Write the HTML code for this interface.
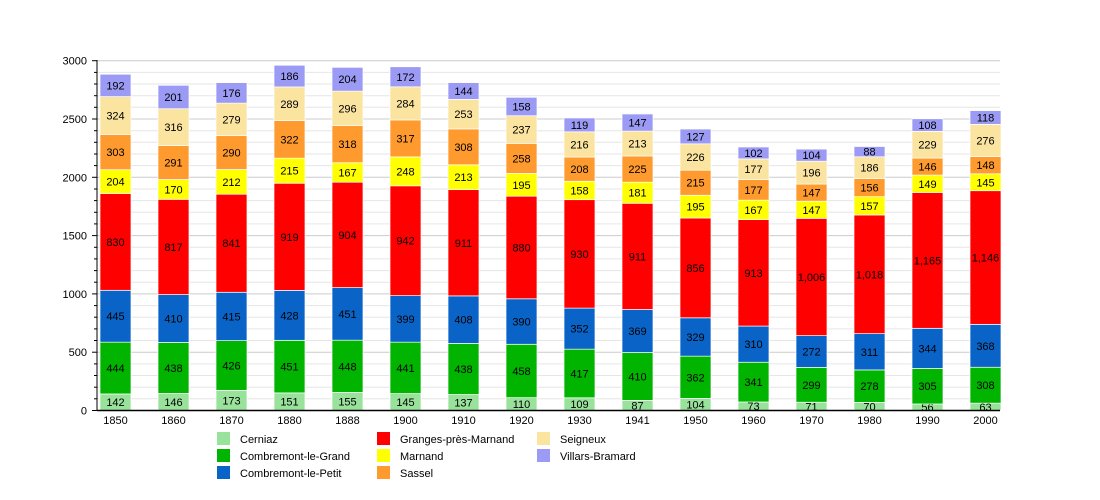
<!DOCTYPE html>
<html><head><meta charset="utf-8"><style>body{margin:0;background:#fff}svg{display:block;font-family:"Liberation Sans",sans-serif}</style></head>
<body><svg id="s" width="1100" height="500" xmlns="http://www.w3.org/2000/svg"></svg>
<script>
const yrs=[1850,1860,1870,1880,1888,1900,1910,1920,1930,1941,1950,1960,1970,1980,1990,2000];
const S=[
["Cerniaz","#99e29b",[142,146,173,151,155,145,137,110,109,87,104,73,71,70,56,63]],
["Combremont-le-Grand","#00b400",[444,438,426,451,448,441,438,458,417,410,362,341,299,278,305,308]],
["Combremont-le-Petit","#0a64c8",[445,410,415,428,451,399,408,390,352,369,329,310,272,311,344,368]],
["Granges-près-Marnand","#ff0000",[830,817,841,919,904,942,911,880,930,911,856,913,1006,1018,1165,1146]],
["Marnand","#ffff00",[204,170,212,215,167,248,213,195,158,181,195,167,147,157,149,145]],
["Sassel","#ff9a2e",[303,291,290,322,318,317,308,258,208,225,215,177,147,156,146,148]],
["Seigneux","#fbe3a0",[324,316,279,289,296,284,253,237,216,213,226,177,196,186,229,276]],
["Villars-Bramard","#9b9bf5",[192,201,176,186,204,172,144,158,119,147,127,102,104,88,108,118]]];
const y0=410.5,k=349.8/3000;let h='';
for(let v=0;v<=3000;v+=100){const y=(y0-v*k).toFixed(1);h+=`<line x1="97" x2="1000" y1="${y}" y2="${y}" stroke="${v%500==0?'#ccc':'#e6e6e6'}"/>`;h+=`<line x1="${v%500==0?92:94}" x2="97" y1="${y}" y2="${y}" stroke="#000"/>`;if(v%500==0)h+=`<text x="87" y="${+y+4}" font-size="11" text-anchor="end">${v}</text>`;}
yrs.forEach((yr,i)=>{const x=100+58*i;let c=0;S.forEach(s=>{const v=s[2][i];const a=y0-c*k,b=y0-(c+v)*k;h+=`<rect x="${x}" y="${b}" width="31" height="${a-b}" fill="${s[1]}" stroke="#fff" stroke-width="0.7"/>`;h+=`<text x="${x+15.5}" y="${(a+b)/2+4}" font-size="11" text-anchor="middle">${v.toLocaleString('en-US')}</text>`;c+=v;});
h+=`<text x="${x+15.5}" y="424" font-size="11" text-anchor="middle">${yr}</text>`;});
h+=`<line x1="97" x2="97" y1="60" y2="410.5" stroke="#000"/><line x1="97" x2="1000" y1="410.5" y2="410.5" stroke="#000" stroke-width="1.5"/>`;
S.forEach((s,j)=>{const c=Math.floor(j/3),r=j%3;const x=217+c*160,y=432+r*17;h+=`<rect x="${x}" y="${y}" width="13" height="13" fill="${s[1]}"/><text x="${x+23}" y="${y+11}" font-size="11">${s[0]}</text>`;});
document.getElementById('s').innerHTML=h;
</script></body></html>
